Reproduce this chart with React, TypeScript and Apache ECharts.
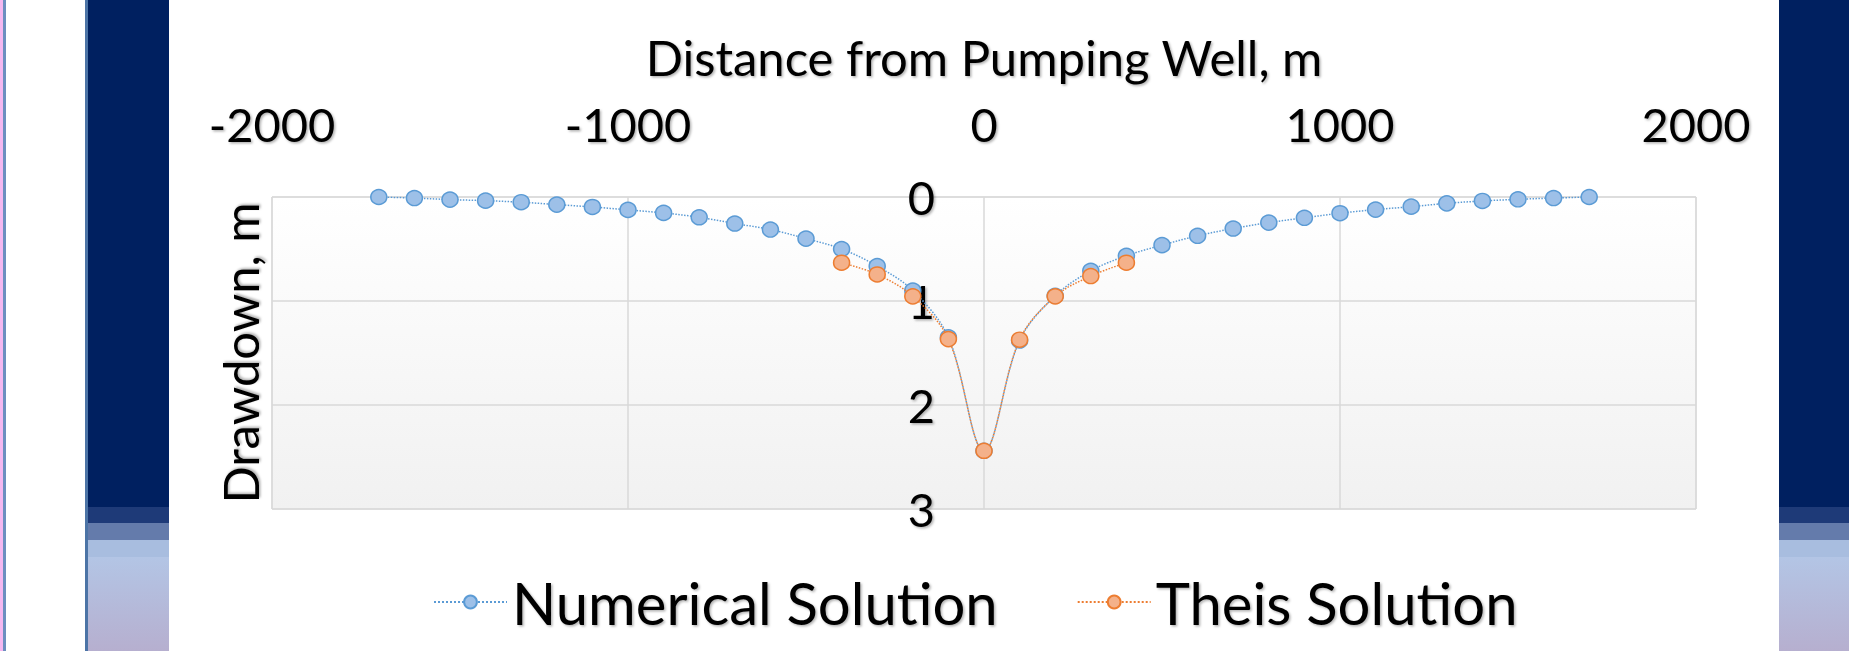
import React, { useEffect, useRef } from "react";
import * as echarts from "echarts";

// Distance from the pumping well (m) for the numerical model nodes
const numericalDistance = [
  -1700, -1600, -1500, -1400, -1300, -1200, -1100, -1000, -900, -800, -700, -600,
  -500, -400, -300, -200, -100, 0, 100, 200, 300, 400, 500, 600, 700, 800, 900,
  1000, 1100, 1200, 1300, 1400, 1500, 1600, 1700,
];
// Drawdown (m) from the numerical solution
const numericalDrawdown = [
  0.0, 0.01, 0.025, 0.035, 0.05, 0.073, 0.096, 0.124, 0.153, 0.195, 0.255, 0.313,
  0.4, 0.5, 0.665, 0.9, 1.35, 2.44, 1.38, 0.95, 0.71, 0.565, 0.463, 0.373, 0.303,
  0.246, 0.2, 0.156, 0.121, 0.093, 0.061, 0.038, 0.022, 0.01, 0.0,
];

// Analytical Theis solution near the well
const theisDistance = [-400, -300, -200, -100, 0, 100, 200, 300, 400];
const theisDrawdown = [0.632, 0.745, 0.955, 1.366, 2.44, 1.372, 0.955, 0.76, 0.632];

const xTicks = { min: -2000, max: 2000, step: 1000 };
const yTicks = { min: 0, max: 3, step: 1 };

const seriesNames = ["Numerical Solution", "Theis Solution"];

const FONT = "Lato";
const shadow = {
  textShadowColor: "rgba(0,0,0,0.3)",
  textShadowBlur: 2,
  textShadowOffsetX: 1.5,
  textShadowOffsetY: 1.5,
};

// Plot area geometry (px)
const PLOT_LEFT = 272;
const PLOT_RIGHT = 1696;
// The drawdown labels sit just left of the x = 0 line, which crosses the plot here
const zeroX = PLOT_LEFT + ((0 - xTicks.min) / (xTicks.max - xTicks.min)) * (PLOT_RIGHT - PLOT_LEFT);

export default function App() {
  const ref = useRef<HTMLDivElement>(null);

  useEffect(() => {
    if (!ref.current) return;
    const chart = echarts.init(ref.current, undefined, { renderer: "svg" });

    const numericalData = numericalDistance.map((d, i) => [d, numericalDrawdown[i]]);
    const theisData = theisDistance.map((d, i) => [d, theisDrawdown[i]]);

    const navy = "#002060";
    const bandRects = (x: number, w: number) => [
      { type: "rect", shape: { x, y: 0, width: w, height: 507 }, style: { fill: navy }, z: -10 },
      { type: "rect", shape: { x, y: 507, width: w, height: 16 }, style: { fill: "#1e3a78" }, z: -10 },
      { type: "rect", shape: { x, y: 523, width: w, height: 17 }, style: { fill: "#647bab" }, z: -10 },
      { type: "rect", shape: { x, y: 540, width: w, height: 17 }, style: { fill: "#a8bddf" }, z: -10 },
      {
        type: "rect",
        shape: { x, y: 557, width: w, height: 94 },
        style: {
          fill: new echarts.graphic.LinearGradient(0, 0, 0, 1, [
            { offset: 0, color: "#b3c5e5" },
            { offset: 1, color: "#b6afcf" },
          ]),
        },
        z: -10,
      },
    ];

    chart.setOption({
      animation: false,
      backgroundColor: "#ffffff",
      textStyle: { fontFamily: FONT },
      graphic: [
        { type: "rect", shape: { x: 0, y: 0, width: 3, height: 651 }, style: { fill: "#f5b8f0" }, z: -10 },
        { type: "rect", shape: { x: 3, y: 0, width: 3, height: 651 }, style: { fill: "#6d8fc0" }, z: -10 },
        { type: "rect", shape: { x: 85, y: 0, width: 3, height: 651 }, style: { fill: "#4c74a6" }, z: -10 },
        ...bandRects(88, 81),
        ...bandRects(1779, 70),
      ],
      grid: {
        left: PLOT_LEFT,
        right: 1849 - PLOT_RIGHT,
        top: 197,
        bottom: 142,
        containLabel: false,
        outerBoundsMode: "none",
        show: true,
        borderColor: "#d9d9d9",
        borderWidth: 1,
        backgroundColor: new echarts.graphic.LinearGradient(0, 0, 0, 1, [
          { offset: 0, color: "#ffffff" },
          { offset: 1, color: "#f1f1f1" },
        ]),
      },
      legend: {
        data: seriesNames,
        left: 428,
        top: 565,
        itemWidth: 73,
        itemHeight: 16,
        itemGap: 79,
        textStyle: {
          fontFamily: FONT,
          fontSize: 58,
          lineHeight: 64,
          color: "#000000",
          ...shadow,
        },
      },
      xAxis: {
        type: "value",
        position: "top",
        min: xTicks.min,
        max: xTicks.max,
        interval: xTicks.step,
        name: "Distance from Pumping Well, m",
        nameLocation: "middle",
        nameGap: 116,
        nameTextStyle: { fontFamily: FONT, fontSize: 49, color: "#000000", ...shadow },
        axisLine: { show: false, onZero: false },
        axisTick: { show: false },
        axisLabel: {
          margin: 50,
          fontFamily: FONT,
          fontSize: 47,
          color: "#000000",
          formatter: (v: number) => String(v),
          ...shadow,
        },
        splitLine: { show: true, lineStyle: { color: "#d9d9d9", width: 1.5 } },
      },
      yAxis: {
        type: "value",
        position: "left",
        inverse: true,
        min: yTicks.min,
        max: yTicks.max,
        interval: yTicks.step,
        name: "Drawdown, m",
        nameLocation: "middle",
        nameRotate: 90,
        nameGap: 8,
        nameTextStyle: { fontFamily: FONT, fontSize: 49, color: "#000000", ...shadow },
        axisLine: { show: false, onZero: false },
        axisTick: { show: false },
        axisLabel: {
          margin: PLOT_LEFT - (zeroX - 49),
          fontFamily: FONT,
          fontSize: 47,
          color: "#000000",
          formatter: (v: number) => String(v),
          ...shadow,
        },
        splitLine: { show: true, lineStyle: { color: "#d9d9d9", width: 1.5 } },
      },
      series: [
        {
          name: seriesNames[0],
          type: "line",
          data: numericalData,
          smooth: 0.35,
          symbol: "circle",
          symbolSize: [16, 15],
          lineStyle: { color: "#5b9bd5", width: 1.5, type: "dotted" },
          itemStyle: { color: "#9dc0e8", borderColor: "#5b9bd5", borderWidth: 1.5 },
          z: 3,
        },
        {
          name: seriesNames[1],
          type: "line",
          data: theisData,
          smooth: 0.35,
          symbol: "circle",
          symbolSize: [16, 15],
          lineStyle: { color: "#ed7d31", width: 1.5, type: "dotted" },
          itemStyle: { color: "#f4b18a", borderColor: "#ed7d31", borderWidth: 1.5 },
          z: 4,
        },
      ],
    });

    return () => chart.dispose();
  }, []);

  return (
    <div
      ref={ref}
      style={{ position: "fixed", left: 0, top: 0, width: 1849, height: 651 }}
    />
  );
}
